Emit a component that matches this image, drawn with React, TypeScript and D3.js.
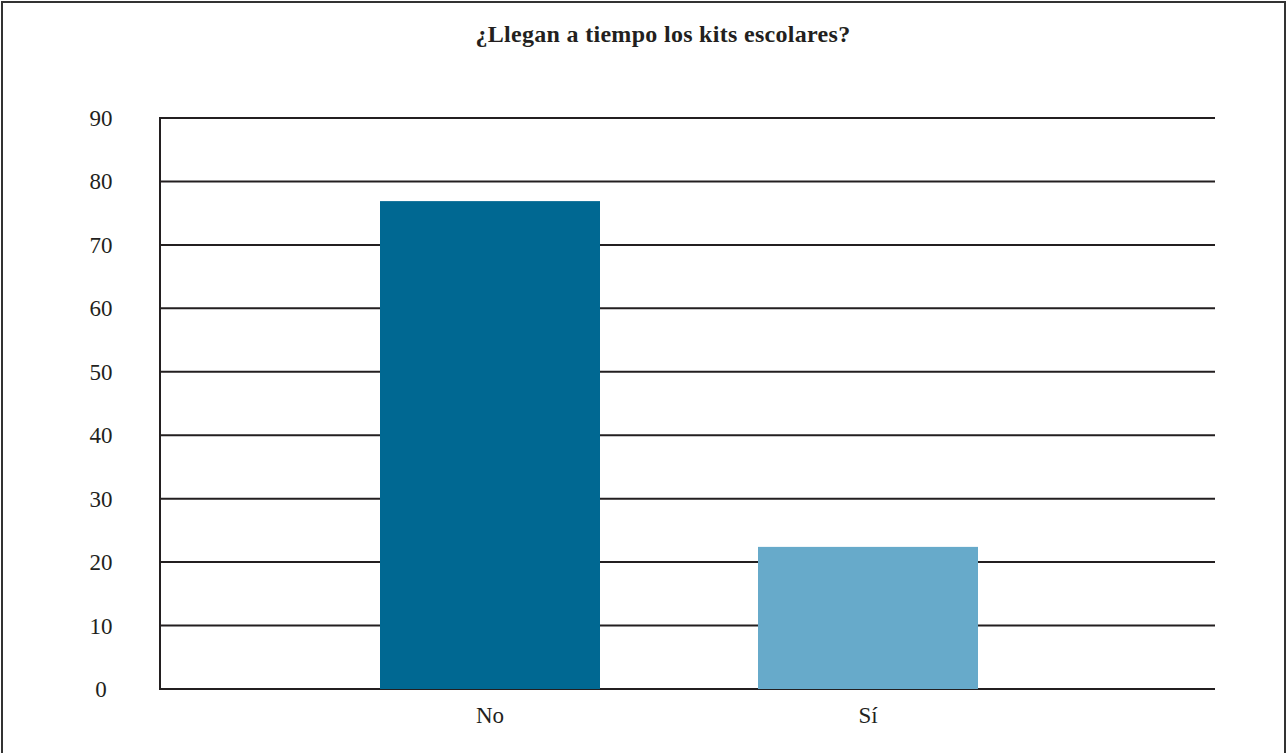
import React, { useEffect, useRef } from "react";
import * as d3 from "d3";

const title = "¿Llegan a tiempo los kits escolares?";
const categories = ["No", "Sí"];
const values = [76.9, 22.4];
const barColors = ["#006892", "#67AACA"];
const yTicks = [0, 10, 20, 30, 40, 50, 60, 70, 80, 90];

const W = 1287;
const H = 753;

export default function App() {
  const ref = useRef<SVGSVGElement>(null);

  useEffect(() => {
    const svg = d3.select(ref.current);
    svg.selectAll("*").remove();

    const plotLeft = 160;
    const plotRight = 1215;
    const plotTop = 118;
    const plotBottom = 689;
    const ink = "#231f20";
    const font = "'Liberation Serif', 'DejaVu Serif', serif";

    svg
      .append("rect")
      .attr("x", 2)
      .attr("y", 2)
      .attr("width", W - 4)
      .attr("height", H + 10)
      .attr("fill", "#fff")
      .attr("stroke", "#333")
      .attr("stroke-width", 2);

    svg
      .append("text")
      .attr("x", 663)
      .attr("y", 42)
      .attr("text-anchor", "middle")
      .attr("font-family", font)
      .attr("font-weight", "bold")
      .attr("font-size", 24)
      .attr("letter-spacing", 0.3)
      .attr("fill", ink)
      .text(title);

    const y = d3.scaleLinear().domain([0, 90]).range([plotBottom, plotTop]);
    const x = d3
      .scaleBand<string>()
      .domain(categories)
      .range([301, 1057])
      .paddingInner(0.418)
      .paddingOuter(0.209);

    // gridlines
    svg
      .append("g")
      .selectAll("line")
      .data(yTicks)
      .join("line")
      .attr("x1", plotLeft)
      .attr("x2", plotRight)
      .attr("y1", (d) => y(d))
      .attr("y2", (d) => y(d))
      .attr("stroke", ink)
      .attr("stroke-width", 2);

    // y axis line
    svg
      .append("line")
      .attr("x1", plotLeft)
      .attr("x2", plotLeft)
      .attr("y1", plotTop - 1)
      .attr("y2", plotBottom + 1)
      .attr("stroke", ink)
      .attr("stroke-width", 2);

    // bars
    svg
      .append("g")
      .selectAll("rect")
      .data(categories)
      .join("rect")
      .attr("x", (d) => x(d)!)
      .attr("width", x.bandwidth())
      .attr("y", (_d, i) => y(values[i]))
      .attr("height", (_d, i) => plotBottom - y(values[i]))
      .attr("fill", (_d, i) => barColors[i]);

    // y tick labels
    svg
      .append("g")
      .selectAll("text")
      .data(yTicks)
      .join("text")
      .attr("x", 101)
      .attr("y", (d) => y(d) + 8)
      .attr("text-anchor", "middle")
      .attr("font-family", font)
      .attr("font-size", 23)
      .attr("fill", ink)
      .text((d) => String(d));

    // x labels
    svg
      .append("g")
      .selectAll("text")
      .data(categories)
      .join("text")
      .attr("x", (d) => x(d)! + x.bandwidth() / 2)
      .attr("y", 723)
      .attr("text-anchor", "middle")
      .attr("font-family", font)
      .attr("font-size", 23)
      .attr("fill", ink)
      .text((d) => d);
  }, []);

  return (
    <svg
      ref={ref}
      width={W}
      height={H}
      style={{ position: "absolute", left: 0, top: 0, display: "block" }}
    />
  );
}
